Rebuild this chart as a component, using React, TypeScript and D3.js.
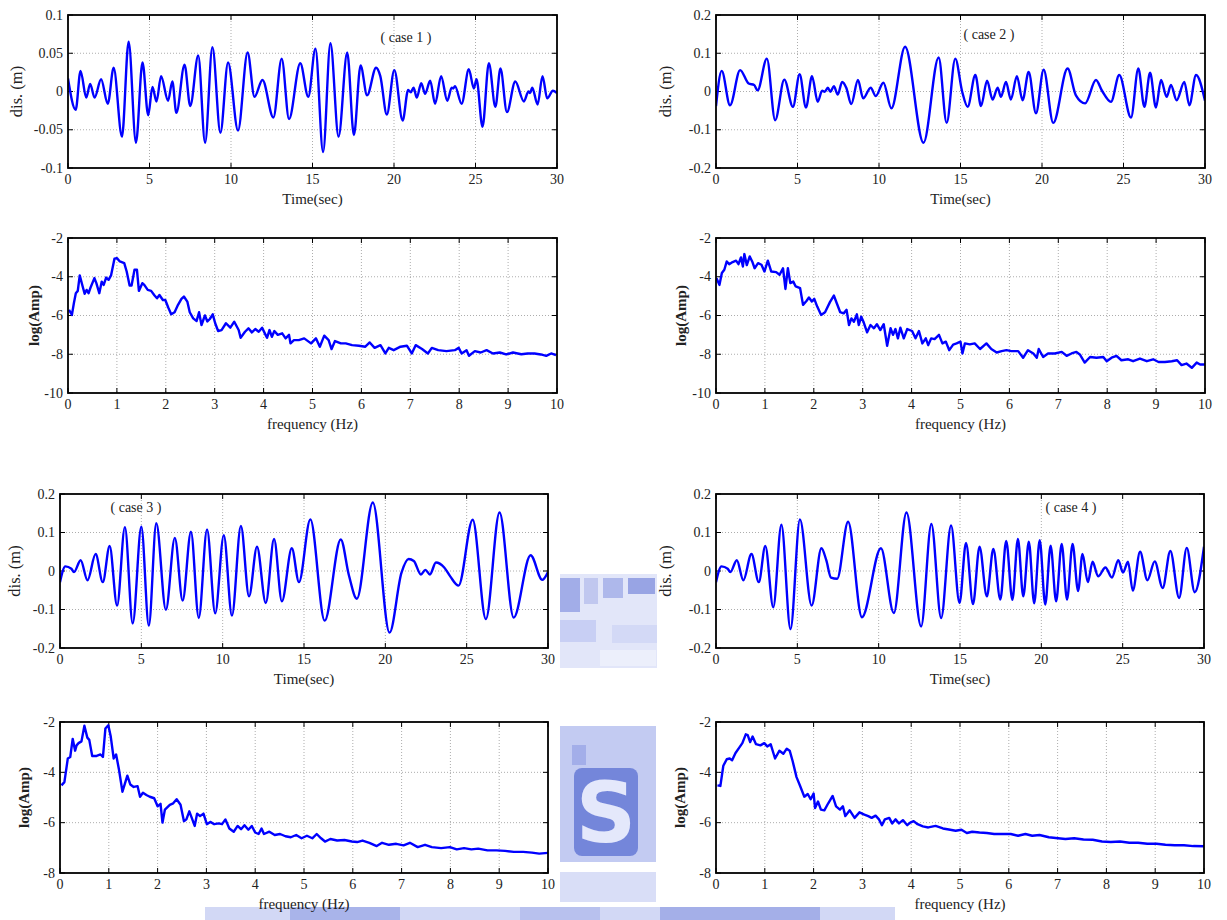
import React from 'react';
import * as d3 from 'd3';

// displacement histories, [time (sec), dis (m)] at the turning points
const case1Dis: [number, number][] = [
  [0, 0.017], [0.47, -0.024], [0.77, 0.027], [1.12, -0.008], [1.36, 0.01], [1.63, -0.008], [2.03, 0.016],
  [2.44, -0.016], [2.8, 0.031], [3.31, -0.059], [3.72, 0.065], [4.17, -0.067], [4.57, 0.038], [4.92, -0.031],
  [5.18, 0.006], [5.43, -0.013], [5.71, 0.02], [6.14, -0.012], [6.4, 0.013], [6.65, -0.028], [7.15, 0.035],
  [7.5, -0.019], [7.99, 0.047], [8.41, -0.067], [8.86, 0.058], [9.35, -0.054], [9.82, 0.038], [10.43, -0.051],
  [11.02, 0.051], [11.44, -0.007], [11.93, 0.015], [12.6, -0.034], [13.11, 0.043], [13.56, -0.036], [14.25, 0.037],
  [14.74, -0.007], [15.18, 0.056], [15.65, -0.079], [16.1, 0.063], [16.6, -0.059], [17.13, 0.051], [17.54, -0.057],
  [17.95, 0.034], [18.35, -0.005], [18.9, 0.031], [19.16, 0.02], [19.56, -0.03], [20.02, 0.028], [20.53, -0.038],
  [20.87, 0.002], [21.03, -0.001], [21.2, 0.005], [21.4, -0.008], [21.67, 0.011], [21.91, -0.003], [22.22, 0.014],
  [22.52, -0.016], [22.89, 0.02], [23.27, -0.012], [23.54, 0.005], [23.64, 0.004], [23.74, 0.007], [24.15, -0.016],
  [24.59, 0.029], [24.9, 0.004], [25.06, 0.016], [25.43, -0.046], [25.82, 0.037], [26.22, -0.02], [26.53, 0.03],
  [26.93, -0.027], [27.44, 0.013], [27.97, -0.013], [28.25, 0.0], [28.35, -0.002], [28.48, 0.005], [28.81, -0.017],
  [29.11, 0.02], [29.4, -0.009], [29.75, 0.001], [30, -0.002],
];

const case2Dis: [number, number][] = [
  [0, -0.038], [0.35, 0.054], [0.86, -0.036], [1.48, 0.056], [2.0, 0.021], [2.34, 0.017], [2.55, 0.003],
  [3.12, 0.086], [3.63, -0.075], [4.19, 0.031], [4.72, -0.04], [5.13, 0.045], [5.52, -0.042], [5.89, 0.04],
  [6.24, -0.027], [6.51, 0.002], [6.67, -0.001], [6.86, 0.01], [7.02, -0.001], [7.23, 0.014], [7.47, -0.008],
  [7.74, 0.025], [7.99, 0.01], [8.3, -0.033], [8.71, 0.03], [9.03, -0.018], [9.49, 0.01], [9.8, -0.012],
  [10.27, 0.023], [10.76, -0.044], [11.6, 0.117], [12.73, -0.134], [13.66, 0.089], [14.15, -0.082],
  [14.68, 0.086], [15.1, 0.0], [15.44, -0.04], [15.91, 0.043], [16.26, -0.038], [16.63, 0.028], [16.97, -0.021],
  [17.28, 0.01], [17.48, -0.014], [17.79, 0.025], [18.09, -0.021], [18.46, 0.04], [18.81, -0.023], [19.18, 0.051],
  [19.63, -0.057], [20.1, 0.057], [20.69, -0.082], [21.57, 0.06], [22.08, -0.01], [22.65, -0.031], [23.31, 0.03],
  [23.68, 0.002], [24.23, -0.027], [24.74, 0.043], [25.46, -0.068], [25.91, 0.06], [26.28, -0.04], [26.63, 0.049],
  [26.99, -0.042], [27.3, 0.03], [27.65, -0.014], [27.91, 0.017], [28.26, -0.023], [28.73, 0.025], [29.04, -0.036],
  [29.45, 0.043], [30, -0.024],
];

const case3Dis: [number, number][] = [
  [0, -0.029], [0.33, 0.012], [0.7, 0.006], [0.86, -0.003], [1.27, 0.028], [1.69, -0.024], [2.19, 0.044],
  [2.63, -0.029], [3.05, 0.065], [3.51, -0.09], [3.99, 0.114], [4.47, -0.136], [5.0, 0.115], [5.46, -0.142],
  [5.92, 0.124], [6.51, -0.101], [7.06, 0.086], [7.54, -0.077], [8.05, 0.102], [8.53, -0.122], [9.04, 0.108],
  [9.54, -0.11], [10.07, 0.093], [10.57, -0.116], [11.12, 0.117], [11.62, -0.066], [12.11, 0.063], [12.65, -0.083],
  [13.16, 0.083], [13.64, -0.079], [14.25, 0.059], [14.69, -0.029], [15.39, 0.134], [16.27, -0.129], [17.26, 0.082],
  [17.76, -0.011], [18.25, -0.072], [19.23, 0.178], [20.26, -0.16], [20.99, -0.005], [21.43, 0.031], [21.75, 0.026],
  [22.19, -0.009], [22.46, 0.003], [22.74, -0.009], [23.11, 0.022], [23.62, 0.009], [23.99, -0.014], [24.5, -0.038],
  [25.37, 0.133], [26.18, -0.125], [27.02, 0.152], [27.89, -0.121], [28.93, 0.041], [29.65, -0.023], [30, -0.003],
];

const case4Dis: [number, number][] = [
  [0, -0.029], [0.34, 0.012], [0.72, 0.006], [0.88, -0.003], [1.28, 0.028], [1.68, -0.024], [2.18, 0.044],
  [2.63, -0.029], [3.03, 0.065], [3.52, -0.094], [4.02, 0.12], [4.58, -0.151], [5.16, 0.134], [5.88, -0.09],
  [6.48, 0.059], [6.78, 0.028], [7.07, -0.017], [7.45, -0.02], [8.12, 0.128], [8.97, -0.12], [10.14, 0.059],
  [10.93, -0.109], [11.71, 0.152], [12.61, -0.144], [13.24, 0.122], [13.84, -0.122], [14.45, 0.118], [14.97, -0.083],
  [15.37, 0.073], [15.8, -0.086], [16.2, 0.063], [16.65, -0.066], [17.05, 0.057], [17.48, -0.074], [17.84, 0.078],
  [18.22, -0.075], [18.56, 0.083], [18.89, -0.066], [19.23, 0.076], [19.56, -0.084], [19.9, 0.08], [20.24, -0.087],
  [20.57, 0.066], [20.91, -0.079], [21.25, 0.07], [21.58, -0.074], [21.92, 0.07], [22.26, -0.052], [22.53, 0.044],
  [22.86, -0.029], [23.15, 0.024], [23.49, -0.014], [23.94, 0.009], [24.34, -0.017], [24.73, 0.028], [25.02, -0.004],
  [25.33, 0.024], [25.62, -0.051], [26.07, 0.05], [26.52, -0.024], [26.97, 0.025], [27.46, -0.044], [27.93, 0.052],
  [28.47, -0.07], [28.94, 0.06], [29.43, -0.055], [30, 0.063],
];

// Fourier spectra, [frequency (Hz), log(Amp)]
const case1Amp: [number, number][] = [
  [0.02, -5.71], [0.08, -5.97], [0.12, -5.37], [0.16, -4.85], [0.2, -4.73], [0.24, -3.93], [0.3, -4.5], [0.34, -4.88],
  [0.38, -4.68], [0.42, -4.85], [0.47, -4.5], [0.54, -4.07], [0.58, -4.33], [0.64, -4.85], [0.69, -4.25], [0.73, -4.42],
  [0.78, -4.04], [0.83, -4.16], [0.88, -3.93], [0.95, -3.07], [1.0, -3.04], [1.06, -3.21], [1.15, -3.3], [1.2, -3.73],
  [1.26, -4.45], [1.3, -4.45], [1.36, -3.64], [1.41, -3.64], [1.45, -4.73], [1.52, -4.33], [1.56, -4.42], [1.63, -4.68],
  [1.7, -4.73], [1.77, -4.97], [1.82, -5.11], [1.87, -4.94], [1.94, -5.2], [1.99, -5.2], [2.05, -5.59], [2.11, -5.94],
  [2.18, -5.83], [2.25, -5.45], [2.32, -5.14], [2.37, -5.02], [2.44, -5.28], [2.49, -5.83], [2.56, -6.15], [2.63, -6.28],
  [2.68, -5.83], [2.73, -6.49], [2.8, -6.0], [2.85, -6.31], [2.9, -6.18], [2.96, -5.94], [3.01, -6.4], [3.07, -6.8],
  [3.14, -6.75], [3.23, -6.4], [3.32, -6.63], [3.4, -6.32], [3.49, -6.75], [3.53, -7.15], [3.62, -6.84], [3.69, -6.66],
  [3.76, -6.87], [3.83, -6.7], [3.9, -6.84], [3.97, -6.63], [4.04, -7.0], [4.07, -7.15], [4.12, -6.75], [4.17, -7.1],
  [4.22, -6.8], [4.29, -7.0], [4.38, -6.92], [4.45, -7.18], [4.52, -7.0], [4.55, -7.44], [4.62, -7.27], [4.72, -7.27],
  [4.83, -7.18], [4.97, -7.44], [5.07, -7.18], [5.15, -7.61], [5.24, -7.04], [5.33, -7.27], [5.39, -7.73], [5.46, -7.32],
  [5.58, -7.44], [5.68, -7.44], [5.81, -7.53], [5.95, -7.56], [6.08, -7.61], [6.17, -7.39], [6.27, -7.67], [6.39, -7.53],
  [6.49, -7.96], [6.56, -7.67], [6.66, -7.79], [6.8, -7.61], [6.93, -7.56], [7.03, -7.96], [7.11, -7.53], [7.24, -7.73],
  [7.36, -7.96], [7.44, -7.67], [7.57, -7.79], [7.74, -7.84], [7.91, -7.79], [7.99, -7.67], [8.05, -7.96], [8.15, -7.79],
  [8.2, -8.08], [8.32, -7.84], [8.44, -7.91], [8.56, -7.79], [8.69, -7.96], [8.83, -7.91], [8.96, -8.01], [9.1, -7.91],
  [9.27, -8.0], [9.4, -7.96], [9.54, -7.96], [9.67, -8.01], [9.78, -8.08], [9.88, -7.96], [9.98, -8.05],
];

const case2Amp: [number, number][] = [
  [0.01, -4.07], [0.07, -4.42], [0.12, -3.81], [0.17, -3.64], [0.22, -3.21], [0.27, -3.35], [0.34, -3.24], [0.41, -3.17],
  [0.46, -3.35], [0.51, -3.0], [0.55, -3.47], [0.58, -2.83], [0.63, -3.4], [0.69, -2.95], [0.74, -3.21], [0.79, -3.56],
  [0.86, -3.3], [0.93, -3.38], [0.99, -3.73], [1.06, -3.17], [1.13, -3.73], [1.23, -3.76], [1.3, -3.9], [1.37, -3.56],
  [1.42, -4.63], [1.47, -3.56], [1.52, -4.33], [1.58, -4.25], [1.63, -4.5], [1.72, -4.59], [1.78, -5.45], [1.85, -5.25],
  [1.9, -5.07], [1.96, -5.28], [2.01, -5.14], [2.07, -5.54], [2.15, -5.97], [2.23, -5.83], [2.33, -5.31], [2.41, -4.97],
  [2.47, -5.37], [2.54, -5.83], [2.61, -5.89], [2.67, -5.71], [2.72, -6.49], [2.77, -6.15], [2.82, -6.32], [2.88, -5.94],
  [2.92, -6.49], [2.97, -6.06], [3.02, -6.35], [3.09, -6.87], [3.16, -6.49], [3.23, -6.66], [3.29, -6.45], [3.36, -6.75],
  [3.43, -6.45], [3.5, -7.56], [3.57, -6.66], [3.62, -7.0], [3.67, -6.7], [3.72, -7.18], [3.77, -6.63], [3.84, -7.18],
  [3.91, -6.7], [4.01, -6.8], [4.08, -7.18], [4.15, -6.8], [4.22, -7.44], [4.29, -7.18], [4.34, -7.53], [4.4, -7.18],
  [4.47, -7.22], [4.56, -7.0], [4.63, -7.44], [4.7, -7.35], [4.77, -7.79], [4.85, -7.5], [4.92, -7.44], [5.0, -7.35],
  [5.04, -7.96], [5.09, -7.44], [5.19, -7.49], [5.29, -7.44], [5.4, -7.73], [5.53, -7.44], [5.63, -7.73], [5.74, -7.91],
  [5.84, -7.84], [5.94, -7.79], [6.04, -7.84], [6.18, -7.84], [6.28, -8.18], [6.38, -7.79], [6.49, -7.96], [6.56, -8.18],
  [6.6, -7.73], [6.69, -8.14], [6.79, -7.96], [6.93, -7.96], [7.07, -7.88], [7.17, -8.08], [7.27, -7.96], [7.37, -7.88],
  [7.44, -8.01], [7.54, -8.43], [7.65, -8.14], [7.78, -8.18], [7.92, -8.14], [7.99, -8.36], [8.09, -8.18], [8.19, -8.08],
  [8.29, -8.31], [8.43, -8.26], [8.53, -8.36], [8.67, -8.22], [8.81, -8.36], [8.94, -8.26], [9.05, -8.4], [9.18, -8.4],
  [9.32, -8.36], [9.43, -8.31], [9.52, -8.56], [9.62, -8.48], [9.73, -8.7], [9.83, -8.43], [9.9, -8.53], [10.0, -8.53],
];

const case3Amp: [number, number][] = [
  [0.03, -4.52], [0.09, -4.39], [0.16, -3.45], [0.21, -3.39], [0.26, -2.67], [0.31, -3.14], [0.34, -2.93], [0.38, -2.84],
  [0.44, -2.77], [0.5, -2.15], [0.56, -2.62], [0.6, -2.71], [0.66, -3.35], [0.75, -3.35], [0.83, -3.29], [0.88, -3.39],
  [0.93, -2.26], [0.99, -2.13], [1.04, -2.58], [1.1, -3.45], [1.15, -3.29], [1.21, -3.91], [1.28, -4.77], [1.33, -4.45],
  [1.38, -4.13], [1.44, -4.48], [1.51, -4.58], [1.59, -4.55], [1.64, -4.97], [1.7, -4.81], [1.77, -4.9], [1.84, -4.97],
  [1.93, -5.03], [2.0, -5.35], [2.06, -5.25], [2.1, -6.0], [2.15, -5.48], [2.25, -5.29], [2.32, -5.23], [2.39, -5.07],
  [2.47, -5.29], [2.54, -5.94], [2.59, -5.87], [2.65, -5.55], [2.7, -5.81], [2.76, -6.13], [2.81, -5.64], [2.87, -5.74],
  [2.94, -5.64], [3.01, -6.06], [3.08, -5.97], [3.16, -6.06], [3.25, -6.03], [3.32, -6.06], [3.39, -5.87], [3.47, -6.23],
  [3.56, -6.36], [3.64, -6.13], [3.71, -6.26], [3.78, -6.1], [3.86, -6.28], [3.93, -6.13], [4.0, -6.39], [4.07, -6.45],
  [4.13, -6.23], [4.18, -6.45], [4.29, -6.36], [4.4, -6.49], [4.51, -6.45], [4.62, -6.54], [4.73, -6.58], [4.84, -6.49],
  [4.95, -6.62], [5.06, -6.52], [5.17, -6.62], [5.26, -6.45], [5.35, -6.62], [5.43, -6.75], [5.54, -6.65], [5.68, -6.71],
  [5.83, -6.69], [5.98, -6.75], [6.09, -6.77], [6.2, -6.71], [6.34, -6.8], [6.49, -6.93], [6.6, -6.8], [6.74, -6.88],
  [6.89, -6.84], [7.04, -6.9], [7.17, -6.8], [7.33, -6.97], [7.48, -6.88], [7.62, -6.97], [7.81, -7.01], [7.99, -6.97],
  [8.13, -7.06], [8.28, -7.01], [8.43, -7.06], [8.57, -7.03], [8.76, -7.1], [8.94, -7.1], [9.12, -7.12], [9.3, -7.16],
  [9.49, -7.16], [9.67, -7.19], [9.82, -7.23], [10.0, -7.2],
];

const case4Amp: [number, number][] = [
  [0.03, -4.52], [0.09, -4.54], [0.15, -3.74], [0.22, -3.48], [0.28, -3.45], [0.33, -3.52], [0.4, -3.23], [0.48, -3.01],
  [0.54, -2.84], [0.61, -2.49], [0.65, -2.52], [0.7, -2.8], [0.75, -2.58], [0.82, -2.88], [0.91, -2.93], [0.99, -2.84],
  [1.05, -2.97], [1.12, -2.88], [1.21, -3.45], [1.3, -3.14], [1.38, -3.26], [1.45, -3.06], [1.51, -3.14], [1.57, -3.55],
  [1.65, -4.19], [1.72, -4.52], [1.81, -4.97], [1.88, -4.86], [1.94, -5.07], [2.0, -4.84], [2.03, -5.42], [2.09, -5.16],
  [2.15, -5.48], [2.22, -5.51], [2.3, -5.23], [2.39, -4.94], [2.46, -5.35], [2.54, -5.48], [2.6, -5.35], [2.65, -5.74],
  [2.74, -5.51], [2.84, -5.81], [2.94, -5.59], [3.04, -5.68], [3.12, -5.74], [3.19, -5.81], [3.27, -5.72], [3.34, -5.87],
  [3.4, -6.1], [3.46, -5.87], [3.55, -5.81], [3.61, -6.03], [3.68, -5.87], [3.75, -6.03], [3.83, -5.9], [3.92, -6.1],
  [3.98, -6.0], [4.05, -5.94], [4.13, -6.06], [4.24, -6.15], [4.35, -6.19], [4.5, -6.13], [4.65, -6.23], [4.8, -6.28],
  [4.91, -6.32], [5.03, -6.28], [5.14, -6.41], [5.25, -6.36], [5.4, -6.39], [5.55, -6.41], [5.7, -6.45], [5.89, -6.45],
  [6.04, -6.45], [6.19, -6.52], [6.34, -6.45], [6.48, -6.52], [6.63, -6.49], [6.82, -6.58], [7.01, -6.62], [7.16, -6.65],
  [7.34, -6.62], [7.53, -6.67], [7.72, -6.68], [7.91, -6.75], [8.09, -6.77], [8.28, -6.75], [8.47, -6.8], [8.65, -6.8],
  [8.84, -6.84], [9.03, -6.84], [9.21, -6.88], [9.4, -6.9], [9.59, -6.9], [9.78, -6.93], [10.0, -6.94],
];

const timeTicks = [0, 5, 10, 15, 20, 25, 30];
const freqTicks = [0, 1, 2, 3, 4, 5, 6, 7, 8, 9, 10];
const disTicksSmall = [-0.1, -0.05, 0, 0.05, 0.1];
const disTicks = [-0.2, -0.1, 0, 0.1, 0.2];
const ampTicksTop = [-10, -8, -6, -4, -2];
const ampTicksBottom = [-8, -6, -4, -2];
const caseLabels = ['( case 1 )', '( case 2 )', '( case 3 )', '( case 4 )'];

const FONT = '"Liberation Serif", "Times New Roman", serif';

type Box = { x0: number; x1: number; y0: number; y1: number };

function Panel(props: any) {
  const { id, box, data, xTicks, yTicks, xLabel, yLabel, yBold, smooth, note, notePos, yLabelDx } = props;
  const b: Box = box;
  const x = d3.scaleLinear().domain([xTicks[0], xTicks[xTicks.length - 1]]).range([b.x0, b.x1]);
  const y = d3.scaleLinear().domain([yTicks[0], yTicks[yTicks.length - 1]]).range([b.y1, b.y0]);
  const line = d3
    .line<[number, number]>()
    .x((d) => x(d[0]))
    .y((d) => y(d[1]))
    .curve(smooth ? d3.curveMonotoneX : d3.curveLinear);
  const tl = 5;
  return (
    <g>
      <defs>
        <clipPath id={id}>
          <rect x={b.x0} y={b.y0} width={b.x1 - b.x0} height={b.y1 - b.y0} />
        </clipPath>
      </defs>
      {/* grid */}
      {xTicks.slice(1, -1).map((t: number) => (
        <line key={'gx' + t} x1={x(t)} x2={x(t)} y1={b.y0} y2={b.y1} stroke="#8a8a8a" strokeWidth={0.7} strokeDasharray="1,2" />
      ))}
      {yTicks.slice(1, -1).map((t: number) => (
        <line key={'gy' + t} x1={b.x0} x2={b.x1} y1={y(t)} y2={y(t)} stroke="#8a8a8a" strokeWidth={0.7} strokeDasharray="1,2" />
      ))}
      {/* inward ticks on all sides */}
      {xTicks.map((t: number) => (
        <g key={'tx' + t}>
          <line x1={x(t)} x2={x(t)} y1={b.y1} y2={b.y1 - tl} stroke="#000" strokeWidth={1} />
          <line x1={x(t)} x2={x(t)} y1={b.y0} y2={b.y0 + tl} stroke="#000" strokeWidth={1} />
          <text x={x(t)} y={b.y1 + 16} textAnchor="middle" fontSize={14} fontFamily={FONT} fill="#222">{String(t)}</text>
        </g>
      ))}
      {yTicks.map((t: number) => (
        <g key={'ty' + t}>
          <line x1={b.x0} x2={b.x0 + tl} y1={y(t)} y2={y(t)} stroke="#000" strokeWidth={1} />
          <line x1={b.x1} x2={b.x1 - tl} y1={y(t)} y2={y(t)} stroke="#000" strokeWidth={1} />
          <text x={b.x0 - 5} y={y(t) + 4.5} textAnchor="end" fontSize={14} fontFamily={FONT} fill="#222">{String(t)}</text>
        </g>
      ))}
      <path d={line(data) || ''} fill="none" stroke="#0000ff" strokeWidth={2.4} strokeLinejoin="round" clipPath={`url(#${id})`} />
      <rect x={b.x0} y={b.y0} width={b.x1 - b.x0} height={b.y1 - b.y0} fill="none" stroke="#000" strokeWidth={1.8} />
      <text x={(b.x0 + b.x1) / 2} y={b.y1 + 36} textAnchor="middle" fontSize={15} fontFamily={FONT} fill="#222">{xLabel}</text>
      <text
        transform={`translate(${b.x0 - yLabelDx}, ${(b.y0 + b.y1) / 2}) rotate(-90)`}
        textAnchor="middle"
        fontSize={yBold ? 15 : 16.5}
        fontWeight={yBold ? 'bold' : 'normal'}
        fontFamily={FONT}
        fill="#222"
      >
        {yLabel}
      </text>
      {note && (
        <text x={notePos[0]} y={notePos[1]} textAnchor="middle" fontSize={14} fontFamily={FONT} fill="#222">{note}</text>
      )}
    </g>
  );
}

function Watermark() {
  return (
    <g>
      <rect x={560} y={574} width={97} height={94} fill="#e2e6f9" />
      <rect x={560} y={578} width={20} height={34} fill="#a2ade8" />
      <rect x={584} y={578} width={14} height={26} fill="#c0c7ef" />
      <rect x={603} y={578} width={20} height={20} fill="#aeb8eb" />
      <rect x={628} y={578} width={27} height={16} fill="#98a4e4" />
      <rect x={560} y={620} width={36} height={22} fill="#c8cff4" />
      <rect x={612} y={625} width={45} height={18} fill="#d3d9f6" />
      <rect x={600} y={650} width={56} height={16} fill="#eceffb" />
      <rect x={560} y={726} width={96} height={136} fill="#c3cbf2" />
      <rect x={572} y={745} width={14} height={20} fill="#a3aee9" />
      <rect x={574} y={768} width={64} height={88} rx={8} fill="#7486da" />
      <text x={606} y={842} textAnchor="middle" fontSize={84} fontWeight="bold" fontFamily='"DejaVu Sans", sans-serif' fill="#e4e8fb">S</text>
      <rect x={560} y={872} width={96} height={30} fill="#d9def7" />
      <rect x={205} y={907} width={690} height={13} fill="#d2d8f5" />
      <rect x={290} y={907} width={110} height={13} fill="#a9b4ea" />
      <rect x={520} y={907} width={80} height={13} fill="#b8c1ee" />
      <rect x={660} y={907} width={160} height={13} fill="#a4afe8" />
    </g>
  );
}

export default function App() {
  const L = { x0: 68, x1: 557 };
  const R = { x0: 716, x1: 1205 };
  const LB = { x0: 60, x1: 548 };
  const RB = { x0: 716, x1: 1204 };
  return (
    <svg width={1227} height={920} style={{ position: 'absolute', left: 0, top: 0, background: '#fff' }}>
      <rect width={1227} height={920} fill="#fff" />
      <Watermark />
      <Panel id="p1" box={{ ...L, y0: 15, y1: 168 }} data={case1Dis} xTicks={timeTicks} yTicks={disTicksSmall}
        xLabel="Time(sec)" yLabel="dis. (m)" yLabelDx={46} smooth note={caseLabels[0]} notePos={[406, 42]} />
      <Panel id="p2" box={{ ...R, y0: 15, y1: 168 }} data={case2Dis} xTicks={timeTicks} yTicks={disTicks}
        xLabel="Time(sec)" yLabel="dis. (m)" yLabelDx={45} smooth note={caseLabels[1]} notePos={[989, 39]} />
      <Panel id="p3" box={{ ...L, y0: 238, y1: 393 }} data={case1Amp} xTicks={freqTicks} yTicks={ampTicksTop}
        xLabel="frequency (Hz)" yLabel="log(Amp)" yBold yLabelDx={29} />
      <Panel id="p4" box={{ ...R, y0: 238, y1: 393 }} data={case2Amp} xTicks={freqTicks} yTicks={ampTicksTop}
        xLabel="frequency (Hz)" yLabel="log(Amp)" yBold yLabelDx={30} />
      <Panel id="p5" box={{ ...LB, y0: 494, y1: 648 }} data={case3Dis} xTicks={timeTicks} yTicks={disTicks}
        xLabel="Time(sec)" yLabel="dis. (m)" yLabelDx={40} smooth note={caseLabels[2]} notePos={[136, 512]} />
      <Panel id="p6" box={{ ...RB, y0: 494, y1: 648 }} data={case4Dis} xTicks={timeTicks} yTicks={disTicks}
        xLabel="Time(sec)" yLabel="dis. (m)" yLabelDx={45} smooth note={caseLabels[3]} notePos={[1071, 512]} />
      <Panel id="p7" box={{ ...LB, y0: 722, y1: 873 }} data={case3Amp} xTicks={freqTicks} yTicks={ampTicksBottom}
        xLabel="frequency (Hz)" yLabel="log(Amp)" yBold yLabelDx={31} />
      <Panel id="p8" box={{ ...RB, y0: 722, y1: 873 }} data={case4Amp} xTicks={freqTicks} yTicks={ampTicksBottom}
        xLabel="frequency (Hz)" yLabel="log(Amp)" yBold yLabelDx={31} />
    </svg>
  );
}
